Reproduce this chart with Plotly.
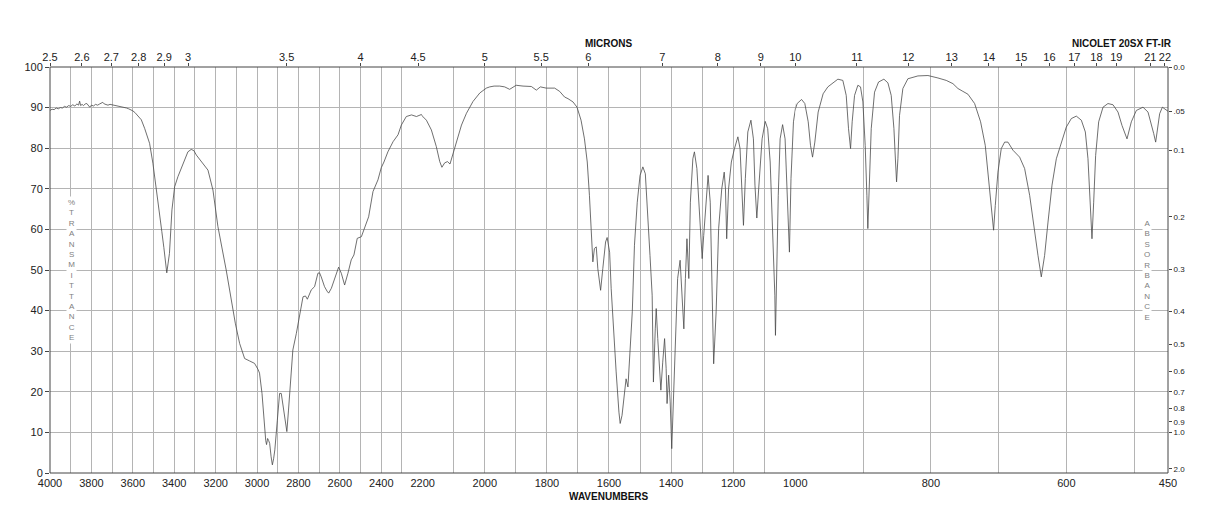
import plotly.graph_objects as go

# ---------------- data ----------------
wavenumber = [
    4000, 3990, 3980, 3970, 3960, 3950, 3940, 3930, 3920, 3910, 3900, 3890, 3880, 3870, 3862,
    3857, 3852, 3845, 3838, 3830, 3822, 3815, 3808, 3800, 3790, 3780, 3770, 3760, 3750, 3745,
    3738, 3730, 3720, 3710, 3700, 3690, 3680, 3670, 3660, 3650, 3640, 3630, 3620, 3610, 3600,
    3590, 3576, 3559, 3543, 3530, 3519, 3503, 3487, 3471, 3460, 3450, 3442, 3436, 3430, 3423,
    3411, 3398, 3382, 3358, 3334, 3318, 3305, 3293, 3262, 3237, 3213, 3189, 3149, 3124, 3105,
    3084, 3060, 3036, 3012, 2995, 2988, 2976, 2967, 2958, 2954, 2949, 2944, 2939, 2932, 2926,
    2920, 2914, 2902, 2891, 2883, 2870, 2856, 2848, 2838, 2827, 2810, 2794, 2778, 2766, 2757,
    2738, 2722, 2706, 2698, 2690, 2674, 2662, 2654, 2641, 2625, 2606, 2593, 2577, 2561, 2545,
    2532, 2516, 2496, 2480, 2461, 2440, 2416, 2400, 2387, 2368, 2343, 2319, 2303, 2279, 2254,
    2230, 2206,
    2188, 2172, 2156, 2145, 2138, 2129, 2120, 2112, 2102, 2091, 2075, 2059, 2038, 2016, 1995,
    1984, 1970, 1952, 1936, 1920, 1899, 1877, 1850, 1834, 1821, 1802, 1775, 1759, 1743, 1732,
    1716, 1703, 1690, 1679, 1670, 1663, 1657, 1652, 1647, 1641, 1636, 1627, 1620, 1611, 1606,
    1598, 1593, 1585, 1577, 1568, 1564, 1558, 1550, 1545, 1539, 1534, 1525, 1518, 1509, 1500,
    1491, 1483, 1475, 1468, 1461, 1457, 1451, 1448, 1443, 1433, 1427, 1421, 1416, 1413, 1408,
    1403, 1398, 1392, 1386, 1379, 1371, 1365, 1359, 1354, 1349, 1343, 1338, 1330, 1325, 1317,
    1309, 1300, 1295, 1287, 1281, 1274, 1269, 1263, 1255, 1247, 1237, 1229, 1225, 1221, 1215,
    1206, 1196, 1185, 1178, 1173, 1167, 1161, 1153, 1143, 1135, 1130, 1124, 1118, 1107, 1097,
    1089, 1081, 1073, 1066, 1064, 1060, 1055, 1049, 1041, 1033, 1027, 1019, 1014, 1006,
    997.3, 990.8, 986, 981, 977.6, 974.6, 971.2, 966.3, 959, 952, 944.6, 937.2, 929.9, 924.9,
    921.5, 918.5, 916.1, 912.6, 907.7, 903.8, 900.3, 896.9, 894.4, 893, 891, 888, 883.1, 877.2,
    869.3, 863.4, 858.5, 854.5, 852.1, 850.6, 848.6, 846.2, 841.3, 833.9, 819.1, 804.3, 789.6,
    777.3, 767.4, 760, 752.7, 745.3, 735.4, 726.6, 719.7, 715.7, 711.8, 709.3, 707.4, 704.9,
    701, 696.1, 691.1, 686.2, 678.8, 669, 661.6, 654.2, 647.8, 641.9, 637, 632.1, 627.1, 621.2,
    614.8, 607.5, 600.1, 592.7, 585.3, 577.9, 572, 568.1, 565.1, 562.2, 559.7, 556.8, 552.3,
    545.9, 538.6, 531.2, 523.8, 517.9, 510.5, 504.1, 496.7, 486.9, 479.5, 474.6, 471.1, 468.2,
    465.7, 462.3, 458.3, 453.9, 450,
]
transmittance = [
    89.3, 89.6, 89.5, 89.9, 89.7, 90.0, 89.9, 90.3, 90.1, 90.5, 90.3, 90.7, 90.4, 90.9, 90.6,
    91.6, 90.5, 90.8, 90.5, 90.9, 91.0, 90.4, 90.1, 90.6, 90.4, 90.8, 90.6, 90.9, 91.1, 91.3,
    90.9, 90.8, 90.6, 90.8, 90.7, 90.6, 90.5, 90.4, 90.3, 90.2, 90.0, 89.9, 89.7, 89.5, 89.2,
    88.8, 88.1, 87.0, 84.9, 83.0, 81.2, 76.3, 69.5, 64.0, 59.5, 55.5, 52.0, 49.3, 51.5, 54.1,
    64.8, 70.5, 73.0, 76.3, 79.1, 79.7, 79.4, 78.3, 76.3, 74.6, 69.7, 60.7, 50.0, 42.6, 36.9,
    31.9, 28.2, 27.6, 27.0, 25.5, 24.6, 19.6, 13.0, 8.0, 7.0, 8.5, 8.0, 7.3, 4.0, 2.0,
    3.5, 5.7, 13.0, 19.6, 19.6, 15.5, 10.2, 15.5, 23.7, 30.3, 34.4, 39.3, 43.4, 43.6, 42.8,
    45.1, 45.9, 49.2, 49.3, 48.3, 45.9, 44.8, 44.3, 45.5, 48.0, 50.7, 49.2, 46.3, 49.2, 52.5,
    53.7, 57.8, 58.2, 60.7, 63.1, 69.3, 72.2, 75.2, 76.6, 79.1, 81.6, 83.3, 85.7, 87.8, 88.2,
    87.8, 88.3,
    86.9, 84.5, 80.4, 76.7, 75.3, 76.4, 76.7, 76.1, 78.7, 82.0, 85.7, 88.6, 91.5, 93.6, 94.8,
    95.1, 95.3, 95.3, 95.1, 94.5, 95.5, 95.3, 95.2, 94.3, 95.1, 94.8, 94.8, 94.0, 92.6, 92.2,
    91.4, 90.1, 86.9, 82.3, 76.6, 68.4, 60.2, 52.0, 55.3, 55.7, 50.3, 45.0, 50.3, 56.9, 58.0,
    54.4, 45.4, 33.9, 24.9, 15.0, 12.2, 14.2, 19.1, 23.2, 21.2, 27.3, 39.7, 56.1, 66.7, 73.3,
    75.4, 73.7, 64.3, 53.6, 43.8, 22.4, 35.5, 40.5, 33.1, 20.4, 27.3, 33.1, 25.7, 17.1, 24.1,
    17.5, 6.0, 19.1, 35.5, 47.9, 52.4, 43.8, 35.5, 47.9, 57.7, 47.9, 66.7, 77.4, 79.1, 75.0,
    63.5, 52.8, 58.5, 66.7, 73.3, 66.7, 47.9, 26.9, 39.7, 60.2, 70.0, 74.1, 70.0, 57.7, 70.0,
    76.6, 79.9, 82.8, 79.9, 70.0, 61.0, 72.5, 84.0, 86.9, 82.3, 70.9, 62.8, 70.0, 82.3, 86.6,
    84.8, 76.6, 60.2, 43.8, 33.9, 52.0, 68.4, 82.3, 85.8, 82.3, 68.4, 54.4, 72.5, 86.5,
    91.0, 92.0, 91.0, 86.5, 80.7, 77.8, 81.5, 88.9, 93.4, 95.1, 96.1, 97.0, 96.7, 93.0,
    84.8, 79.9, 86.5, 93.0, 95.5, 95.1, 91.4, 80.7, 68.4, 60.2, 70.0, 84.8, 93.8, 96.3,
    97.0, 96.1, 93.0, 84.8, 76.6, 71.7, 77.4, 88.1, 94.7, 97.1, 97.8, 97.9, 97.3,
    96.7, 95.9, 94.7, 94.0, 93.3, 91.0, 86.5, 80.7, 74.1, 66.7, 61.8, 59.8, 65.9,
    74.1, 79.9, 81.5, 81.5, 79.5, 77.8, 75.0, 68.4, 60.2, 53.6, 48.3, 53.6, 61.8, 70.9,
    77.4, 81.5, 85.2, 87.3, 87.9, 86.9, 84.0, 77.4, 66.7, 57.7, 66.7, 78.2, 86.5,
    90.1, 91.0, 90.7, 88.9, 85.6, 82.3, 86.5, 89.3, 90.1, 88.9, 86.0, 83.6, 81.5,
    84.8, 88.5, 90.1, 89.5, 89.1,
]

# axis segments (the chart changes scale at 2200 and 1000 cm-1)
segments = [(4000, 2200), (2200, 1000), (1000, 450)]
seg_ticks = [
    list(range(4000, 2199, -100)),
    list(range(2100, 1099, -100)),
    list(range(1000, 499, -100)) + [450],
]
bottom_labels = [4000, 3800, 3600, 3400, 3200, 3000, 2800, 2600, 2400, 2200,
                 2000, 1800, 1600, 1400, 1200, 1000, 800, 600, 450]
micron_labels = [["2.5", "2.6", "2.7", "2.8", "2.9", "3", "3.5", "4", "4.5"],
                 ["5", "5.5", "6", "7", "8", "9"],
                 ["10", "11", "12", "13", "14", "15", "16", "17", "18", "19", "21", "22"]]
absorbance_labels = ["0.0", ".05", "0.1", "0.2", "0.3", "0.4", "0.5", "0.6",
                     "0.7", "0.8", "0.9", "1.0", "2.0"]
absorbance_values = [0.0, 0.05, 0.1, 0.2, 0.3, 0.4, 0.5, 0.6, 0.7, 0.8, 0.9, 1.0, 2.0]
transmittance_ticks = list(range(0, 101, 10))

# ---------------- figure ----------------
FONT = "Liberation Sans, Arial, Helvetica, sans-serif"
GRID = "#b4b4b4"
AXC = "#444444"
LINE = "#4a4a4a"

fig = go.Figure()
domains = [[0, 1 / 3], [1 / 3, 2 / 3], [2 / 3, 1]]

for i, (hi, lo) in enumerate(segments):
    idx = [k for k, w in enumerate(wavenumber) if lo <= w <= hi]
    if idx[0] > 0:
        idx = [idx[0] - 1] + idx
    if idx[-1] < len(wavenumber) - 1:
        idx = idx + [idx[-1] + 1]
    xs = [wavenumber[k] for k in idx]
    ys = [transmittance[k] for k in idx]
    xa = "x" if i == 0 else f"x{i + 1}"
    fig.add_trace(go.Scatter(x=xs, y=ys, mode="lines", xaxis=xa, yaxis="y",
                             line=dict(color=LINE, width=0.8), showlegend=False,
                             hoverinfo="skip"))
    # carrier traces for the top (micron) axes
    fig.add_trace(go.Scatter(x=[hi], y=[-50], mode="lines", xaxis=f"x{i + 4}", yaxis="y",
                             showlegend=False, hoverinfo="skip"))
# carrier for right absorbance axis
fig.add_trace(go.Scatter(x=[1000], y=[-50], mode="lines", xaxis="x3", yaxis="y2",
                         showlegend=False, hoverinfo="skip"))

layout = dict(
    width=1218, height=528,
    margin=dict(l=50, r=50, t=67, b=55, pad=0),
    paper_bgcolor="white", plot_bgcolor="white",
    font=dict(family=FONT, size=11, color="#222222"),
    showlegend=False,
    yaxis=dict(range=[0, 100], tickvals=transmittance_ticks, ticks="outside", ticklen=4,
               tickcolor=AXC, showgrid=True, gridcolor=GRID, gridwidth=1, zeroline=False,
               showline=False, tickfont=dict(size=11), anchor="x"),
    yaxis2=dict(range=[0, 100], overlaying="y", side="right", anchor="x3",
                tickvals=[100 * 10 ** (-a) for a in absorbance_values],
                ticktext=absorbance_labels, ticks="outside", ticklen=3, tickcolor=AXC,
                showgrid=False, zeroline=False, tickfont=dict(size=8)),
)

for i, (hi, lo) in enumerate(segments):
    tv = seg_ticks[i]
    tt = [str(v) if v in bottom_labels else "" for v in tv]
    key = "xaxis" if i == 0 else f"xaxis{i + 1}"
    layout[key] = dict(domain=domains[i], range=[hi, lo], anchor="y", tickvals=tv,
                       ticktext=tt, ticks="", showgrid=True, gridcolor=GRID, gridwidth=1,
                       zeroline=False, showline=False, tickfont=dict(size=11),
                       ticklabelstandoff=2)
    mt = micron_labels[i]
    layout[f"xaxis{i + 4}"] = dict(domain=domains[i], range=[hi, lo], anchor="y",
                                   overlaying="x" if i == 0 else f"x{i + 1}", side="top",
                                   tickvals=[10000 / float(m) for m in mt], ticktext=mt,
                                   ticks="outside", ticklen=3, tickcolor=AXC, showgrid=False,
                                   zeroline=False, showline=False, tickfont=dict(size=11),
                                   ticklabelstandoff=-2)

fig.update_layout(**layout)

# frame
fig.add_shape(type="rect", xref="paper", yref="paper", x0=0, x1=1, y0=0, y1=1,
              line=dict(color=AXC, width=1), layer="above")

PH = 406.0
PW = 1118.0
def px(xpix):
    return (xpix - 50) / PW
def py(ypix):
    return (473 - ypix) / PH

def label(text, x, y, size=10, color="#111111", bg=None):
    fig.add_annotation(text=text, x=px(x), y=py(y), xref="paper", yref="paper",
                       xanchor="center", yanchor="middle", showarrow=False,
                       bgcolor=bg, font=dict(size=size, color=color))

label("<b>MICRONS</b>", 609, 44)
label("<b>NICOLET 20SX FT-IR</b>", 1122, 44)
label("<b>WAVENUMBERS</b>", 609, 496)
label("<br>".join(list("%TRANSMITTANCE")), 71, 270, size=8, color="#808080", bg="white")
label("<br>".join(list("ABSORBANCE")), 1147, 270, size=8, color="#808080", bg="white")

fig.write_html("out.html")
